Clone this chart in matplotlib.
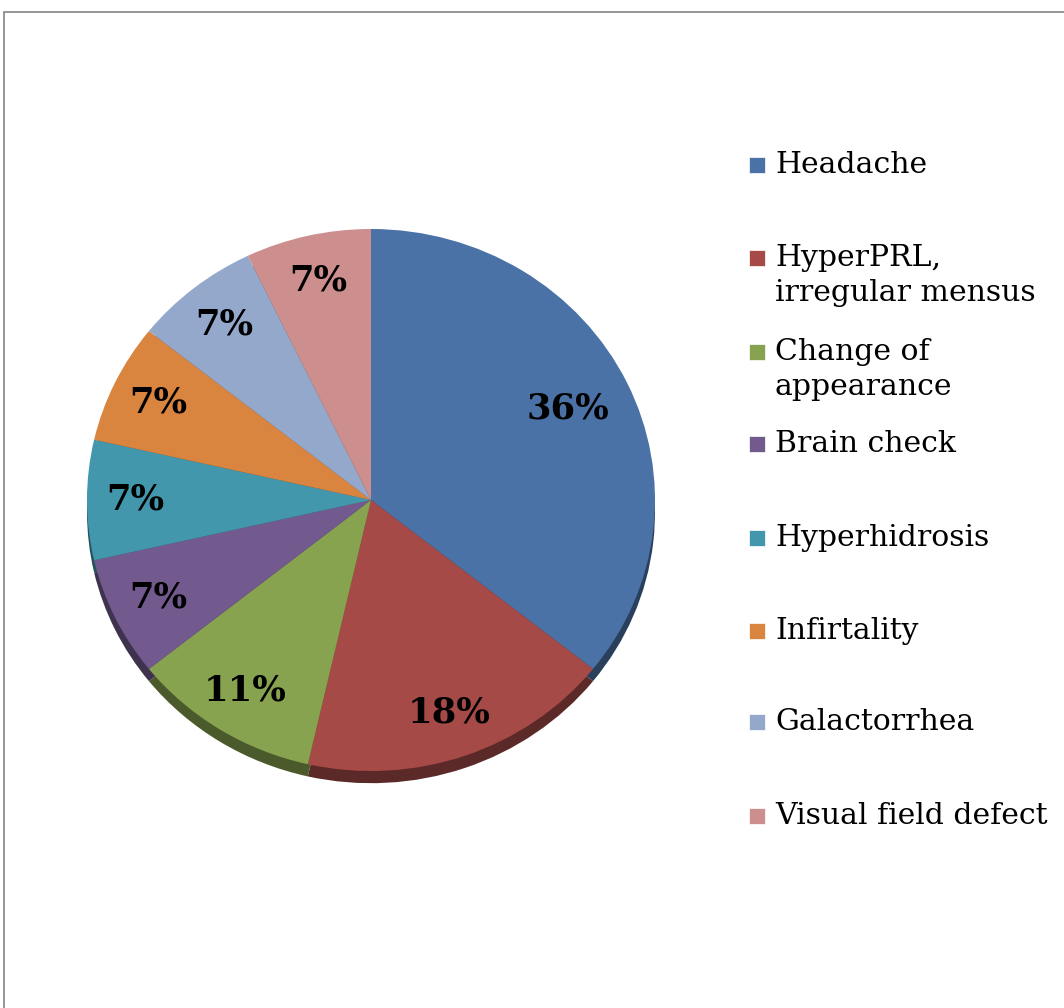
import numpy as np
import matplotlib
matplotlib.use('Agg')
import matplotlib.pyplot as plt
from matplotlib.patches import Rectangle
from matplotlib.colors import to_rgb

labels = ['Headache', 'HyperPRL,\nirregular mensus', 'Change of\nappearance', 'Brain check',
          'Hyperhidrosis', 'Infirtality', 'Galactorrhea', 'Visual field defect']
counts = [10, 5, 3, 2, 2, 2, 2, 2]
colors = ['#4A72A6', '#A64A47', '#88A34F', '#735A8E', '#4297AD', '#D9843F', '#93A8CB', '#CC8F8E']

# legend row centres in pixels from top (layout only)
leg_y = [165, 258, 352, 444, 538, 631, 722, 816]

W, H = 1064, 1008
fig = plt.figure(figsize=(W / 100, H / 100), dpi=100)
fig.patch.set_facecolor('white')

# chart frame (runs off the right and bottom like the crop)
fig.add_artist(Rectangle((4 / W, -0.1), 1.2, 1.1 - 12 / H, transform=fig.transFigure,
                         fill=False, edgecolor='#8c8c8c', linewidth=1.3))

rx, ry = 284, 271
cx, cy = 371, 500
lim = 1.1
aw, ah = 2 * lim * rx, 2 * lim * ry
ax = fig.add_axes([(cx - aw / 2) / W, (H - cy - ah / 2) / H, aw / W, ah / H])

# dark rim underneath for the 3D look
dark = [tuple(c * 0.55 for c in to_rgb(col)) for col in colors]
ax.pie(counts, colors=dark, startangle=90, counterclock=False, center=(0, -0.045),
       wedgeprops=dict(linewidth=0))

wedges, texts, autotexts = ax.pie(counts, colors=colors, startangle=90, counterclock=False,
                                  autopct=lambda p: '%d%%' % round(p), pctdistance=0.83,
                                  wedgeprops=dict(linewidth=0))
for t in autotexts:
    t.set_fontfamily('DejaVu Serif')
    t.set_fontweight('bold')
    t.set_fontsize(25.5)
    t.set_color('black')
# big slice label sits a bit further in
x0, y0 = autotexts[0].get_position()
autotexts[0].set_position((x0 * 0.77 / 0.83, y0 * 0.78 / 0.83))

ax.set_aspect('auto')
ax.set_xlim(-lim, lim)
ax.set_ylim(-lim, lim)
ax.axis('off')

# legend
for lab, col, y in zip(labels, colors, leg_y):
    fig.add_artist(Rectangle((749 / W, 1 - (y + 8) / H), 16 / W, 16 / H,
                             transform=fig.transFigure, facecolor=col, edgecolor='white', linewidth=0.5))
    fig.text(775 / W, 1 - (y - 14) / H, lab, fontsize=21.5, family='DejaVu Serif',
             va='top', ha='left', linespacing=1.3)

fig.savefig('out.png', dpi=100)
